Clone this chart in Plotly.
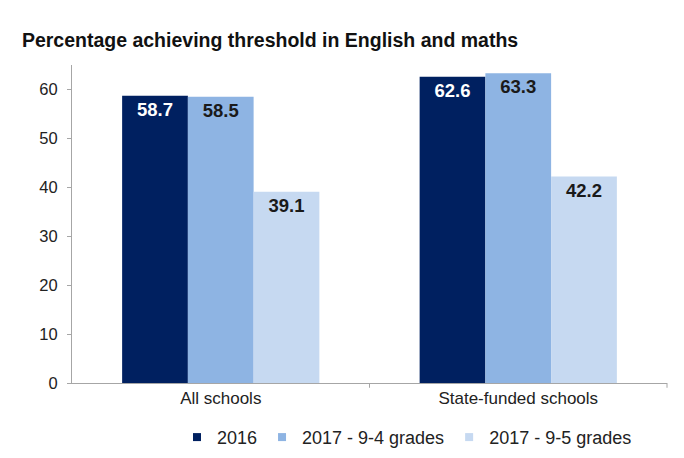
import plotly.graph_objects as go

categories = ["All schools", "State-funded schools"]
series_names = ["2016", "2017 - 9-4 grades", "2017 - 9-5 grades"]
values_2016 = [58.7, 62.6]
values_94 = [58.5, 63.3]
values_95 = [39.1, 42.2]
y_ticks = [0, 10, 20, 30, 40, 50, 60]

colors = ["#002060", "#8EB4E3", "#C6D9F1"]
text_colors = ["#FFFFFF", "#1a1a1a", "#1a1a1a"]
FONT = "Liberation Sans, Arial"

fig = go.Figure()
for name, vals, c, tc in zip(series_names, [values_2016, values_94, values_95], colors, text_colors):
    fig.add_trace(go.Bar(
        x=categories, y=vals, name=name, marker=dict(color=c, line=dict(width=0)),
        text=[f"{v:.1f}" for v in vals], textposition="inside", insidetextanchor="end",
        textfont=dict(color=tc, size=18.5, family=FONT, weight="bold"),
        textangle=0, showlegend=False,
    ))
# legend entries with small square symbols
for name, c in zip(series_names, colors):
    fig.add_trace(go.Scatter(
        x=[None], y=[None], mode="markers", name=name,
        marker=dict(symbol="square", size=8, color=c), showlegend=True,
    ))

fig.update_layout(
    barmode="group", bargap=0.337, bargroupgap=0,
    width=684, height=458,
    margin=dict(l=72, r=17, t=65, b=75, autoexpand=False),
    paper_bgcolor="white", plot_bgcolor="white",
    font=dict(family=FONT, size=16, color="#222"),
    title=dict(text="<b>Percentage achieving threshold in English and maths</b>",
               x=0.032, xanchor="left", y=0.912, yanchor="middle",
               font=dict(size=19.5, color="#111")),
    legend=dict(orientation="h", x=0.563, xanchor="center",
                yref="container", y=0.045, yanchor="middle",
                font=dict(size=18, color="#222"), itemwidth=30, traceorder="normal",
                itemclick=False, tracegroupgap=0),
    showlegend=True,
)
fig.update_yaxes(range=[0, 65], tickvals=y_ticks, showgrid=False, zeroline=False,
                 showline=True, linecolor="#a6a6a6", linewidth=1,
                 ticks="outside", ticklen=4, tickcolor="#a6a6a6",
                 ticklabelstandoff=6,
                 tickfont=dict(size=16.5, color="#222"))
fig.update_xaxes(showgrid=False, showline=True, linecolor="#a6a6a6", linewidth=1,
                 ticks="", tickfont=dict(size=17, color="#222"))
fig.add_shape(type="line", xref="paper", yref="paper", x0=0.5, x1=0.5, y0=0, y1=-0.015,
              line=dict(color="#a6a6a6", width=1))
fig.add_shape(type="line", xref="paper", yref="paper", x0=1, x1=1, y0=0, y1=-0.015,
              line=dict(color="#a6a6a6", width=1))

fig.write_html("out.html", config={"displayModeBar": False},
               post_script="document.body.style.margin='0';")
